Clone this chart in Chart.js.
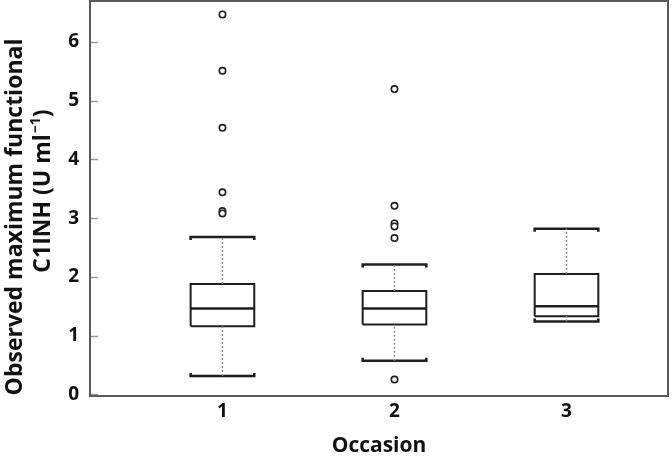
<!DOCTYPE html>
<html><head><meta charset="utf-8">
<script src="https://cdn.jsdelivr.net/npm/chart.js@4.4.0/dist/chart.umd.min.js"></script>
<style>html,body{margin:0;padding:0;background:#fff}</style>
</head><body>
<canvas id="c" width="672" height="460"></canvas>
<script>
// ---- data ----
const categories   = ['1', '2', '3'];
const lowerWhisker = [0.31, 0.57, 1.24];
const q1           = [1.16, 1.19, 1.33];
const median       = [1.46, 1.46, 1.50];
const q3           = [1.88, 1.76, 2.05];
const upperWhisker = [2.68, 2.21, 2.82];
const outliers1    = [6.47, 5.51, 4.54, 3.44, 3.12, 3.08];
const outliers2    = [5.20, 3.21, 2.91, 2.86, 2.66, 0.25];
const outliers3    = [];
const yTicks       = [0, 1, 2, 3, 4, 5, 6];
const xTitle       = 'Occasion';
const yTitleLine1  = 'Observed maximum functional';
const yTitleLine2  = ['C1INH (U ml', '\u22121', ')'];

// ---- styles ----
const BOX_HALF = 0.185, HOOK = 0.05;
const INK = '#1e1e1e', WHISK = '#8a8a8a';
const FONT = '"Open Sans", Lato, sans-serif';

const outlierSets = [outliers1, outliers2, outliers3];
const datasets = [];
const line = (pts, opts) => Object.assign({
  type: 'scatter', data: pts, showLine: true, pointRadius: 0, borderColor: INK,
  borderWidth: 2, fill: false, tension: 0, borderCapStyle: 'butt', borderJoinStyle: 'miter'
}, opts || {});

categories.forEach((c, i) => {
  const x = i + 1, l = x - BOX_HALF, r = x + BOX_HALF;
  datasets.push(line([{x, y: lowerWhisker[i]}, {x, y: q1[i]}], {borderColor: WHISK, borderWidth: 1.5, borderDash: [2, 2]}));
  datasets.push(line([{x, y: q3[i]}, {x, y: upperWhisker[i]}], {borderColor: WHISK, borderWidth: 1.5, borderDash: [2, 2]}));
  datasets.push(line([{x: l, y: lowerWhisker[i] + HOOK}, {x: l, y: lowerWhisker[i]}, {x: r, y: lowerWhisker[i]}, {x: r, y: lowerWhisker[i] + HOOK}], {borderWidth: 2.5}));
  datasets.push(line([{x: l, y: upperWhisker[i] - HOOK}, {x: l, y: upperWhisker[i]}, {x: r, y: upperWhisker[i]}, {x: r, y: upperWhisker[i] - HOOK}], {borderWidth: 2.5}));
  datasets.push(line([{x: l, y: q1[i]}, {x: r, y: q1[i]}, {x: r, y: q3[i]}, {x: l, y: q3[i]}, {x: l, y: q1[i]}], {borderWidth: 2}));
  datasets.push(line([{x: l, y: median[i]}, {x: r, y: median[i]}], {borderWidth: 2.5}));
  datasets.push({
    type: 'scatter', data: outlierSets[i].map(v => ({x, y: v})), showLine: false,
    pointStyle: 'circle', pointRadius: 3.2, pointBorderWidth: 1.6,
    pointBorderColor: INK, pointBackgroundColor: '#fff'
  });
});

const framePlugin = {
  id: 'frame',
  beforeDatasetsDraw(chart) {
    const {ctx, chartArea: a, scales: {y}} = chart;
    ctx.save();
    ctx.strokeStyle = '#9a9a9a'; ctx.lineWidth = 1.5;
    yTicks.forEach(v => {
      const py = Math.round(y.getPixelForValue(v)) + 0.5;
      ctx.beginPath(); ctx.moveTo(a.left, py); ctx.lineTo(a.left + 8, py); ctx.stroke();
    });
    ctx.strokeStyle = '#5a5a5a'; ctx.lineWidth = 2;
    ctx.strokeRect(a.left, a.top, a.right - a.left, a.bottom - a.top);
    ctx.restore();
  },
  afterDraw(chart) {
    const ctx = chart.ctx;
    ctx.save();
    ctx.fillStyle = '#111';
    ctx.textAlign = 'center'; ctx.textBaseline = 'middle';
    ctx.save();
    ctx.translate(15, 217); ctx.rotate(-Math.PI / 2);
    ctx.font = 'bold 23px ' + FONT;
    ctx.fillText(yTitleLine1, 0, 0);
    ctx.restore();
    ctx.save();
    ctx.translate(43, 191); ctx.rotate(-Math.PI / 2);
    const big = 'bold 23px ' + FONT, small = 'bold 14px ' + FONT;
    ctx.font = big; const w1 = ctx.measureText(yTitleLine2[0]).width, w3 = ctx.measureText(yTitleLine2[2]).width;
    ctx.font = small; const w2 = ctx.measureText(yTitleLine2[1]).width + 1;
    let x0 = -(w1 + w2 + w3) / 2;
    ctx.textAlign = 'left';
    ctx.font = big; ctx.fillText(yTitleLine2[0], x0, 0);
    ctx.font = small; ctx.fillText(yTitleLine2[1], x0 + w1 + 1, -7);
    ctx.font = big; ctx.fillText(yTitleLine2[2], x0 + w1 + w2, 0);
    ctx.restore();
    ctx.restore();
  }
};

new Chart(document.getElementById('c'), {
  type: 'scatter',
  data: {datasets},
  options: {
    responsive: false, devicePixelRatio: 1, animation: false,
    layout: {autoPadding: false, padding: {top: 1, right: 4, left: 0, bottom: 0}},
    plugins: {legend: {display: false}, tooltip: {enabled: false}},
    scales: {
      x: {
        type: 'linear', min: 0.23, max: 3.59,
        grid: {display: false, drawTicks: false}, border: {display: false},
        afterBuildTicks: s => { s.ticks = categories.map((c, i) => ({value: i + 1})); },
        ticks: {callback: v => categories[v - 1], font: {family: FONT, weight: 'bold', size: 19}, color: '#111', padding: 4, autoSkip: false, maxRotation: 0},
        title: {display: true, text: xTitle, font: {family: FONT, weight: 'bold', size: 21}, color: '#111', padding: {top: 0, bottom: 1}},
        afterFit: s => { s.height = 64; s.paddingLeft = 0; s.paddingRight = 0; }
      },
      y: {
        type: 'linear', min: -0.03, max: 6.7,
        grid: {display: false, drawTicks: false}, border: {display: false},
        afterBuildTicks: s => { s.ticks = yTicks.map(v => ({value: v})); },
        ticks: {font: {family: FONT, weight: 'bold', size: 19}, color: '#111', padding: 11},
        afterFit: s => { s.width = 90; s.paddingTop = 0; s.paddingBottom = 0; }
      }
    }
  },
  plugins: [framePlugin]
});
</script>
</body></html>
